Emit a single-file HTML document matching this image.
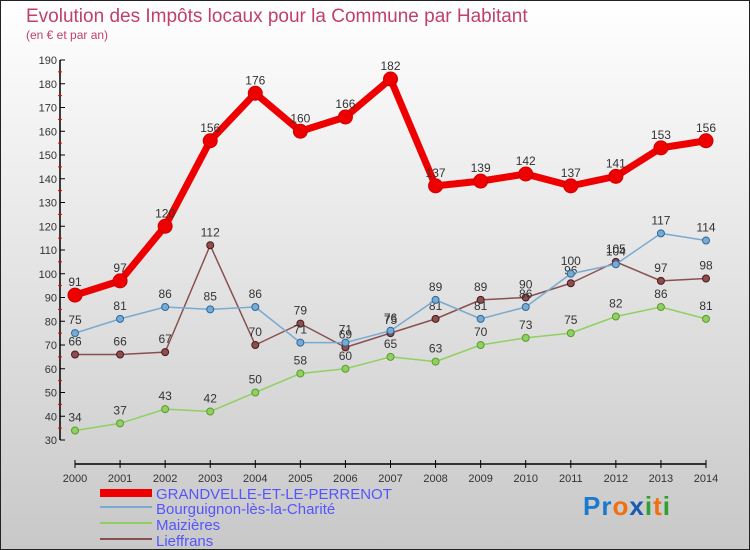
<!DOCTYPE html>
<html><head><meta charset="utf-8"><style>
body{margin:0;width:750px;height:550px;overflow:hidden;font-family:"Liberation Sans",sans-serif}
svg{display:block}
</style></head><body>
<svg id="chart" width="750" height="550" xmlns="http://www.w3.org/2000/svg">
<defs><linearGradient id="bg" x1="0" y1="0" x2="0" y2="1"><stop offset="0" stop-color="#ffffff"/><stop offset="1" stop-color="#c8c8c8"/></linearGradient></defs>
<rect x="0.5" y="0.5" width="749" height="549" fill="url(#bg)" stroke="#222"/>
<text x="26" y="22" font-size="19" fill="#c0406a">Evolution des Impôts locaux pour la Commune par Habitant</text>
<text x="26" y="39" font-size="12" fill="#c0406a">(en € et par an)</text>
<g id="axes"></g>
<g id="series"></g>
<g font-size="15" fill="#5555ff">
<rect x="100" y="489" width="52" height="8" fill="#e00"/>
<text x="156" y="499">GRANDVELLE-ET-LE-PERRENOT</text>
<rect x="100" y="506" width="52" height="2" fill="#7aaad0"/>
<text x="156" y="514">Bourguignon-lès-la-Charité</text>
<rect x="100" y="522" width="52" height="2" fill="#90d060"/>
<text x="156" y="530">Maizières</text>
<rect x="100" y="538" width="52" height="2" fill="#8a5050"/>
<text x="156" y="546">Lieffrans</text>
</g>
<text x="583" y="515" font-size="26" font-weight="bold" letter-spacing="1"><tspan fill="#1a7ad0">Pr</tspan><tspan fill="#f07010">o</tspan><tspan fill="#1a5ab0">x</tspan><tspan fill="#30a030">i</tspan><tspan fill="#f07010">t</tspan><tspan fill="#30a030">i</tspan></text>
</svg>
<script>
const years=[2000,2001,2002,2003,2004,2005,2006,2007,2008,2009,2010,2011,2012,2013,2014];
const grandvelle=[91,97,120,156,176,160,166,182,137,139,142,137,141,153,156];
const bourguignon=[75,81,86,85,86,71,71,76,89,81,86,100,104,117,114];
const maizieres=[34,37,43,42,50,58,60,65,63,70,73,75,82,86,81];
const lieffrans=[66,66,67,112,70,79,69,75,81,89,90,96,105,97,98];
const yTicks=[30,40,50,60,70,80,90,100,110,120,130,140,150,160,170,180,190];
const NS="http://www.w3.org/2000/svg";
function x(i){return 75+i*(706-75)/(years.length-1);}
function y(v){return 440-(v-30)*380/160;}
function mk(t,a,p){const e=document.createElementNS(NS,t);for(const k in a)e.setAttribute(k,a[k]);p.appendChild(e);return e;}
const ax=document.getElementById('axes');
const yl=mk('line',{x1:60,y1:y(190),x2:60,y2:y(30),stroke:'#000','stroke-width':1.5},ax);


yTicks.forEach((v,k)=>{
 mk('line',{x1:60,y1:y(v),x2:65,y2:y(v),stroke:'#000'},ax);
 if(k<yTicks.length-1) mk('line',{x1:58,y1:y(v+5),x2:62,y2:y(v+5),stroke:'#e00'},ax);
 const t=mk('text',{x:57,y:y(v)+4,'text-anchor':'end','font-size':11,fill:'#333'},ax);t.textContent=v;
 
 
});
const xl=mk('line',{x1:x(0),y1:464,x2:x(14),y2:464,stroke:'#000','stroke-width':1.5},ax);


years.forEach((yr,i)=>{
 mk('line',{x1:x(i),y1:460,x2:x(i),y2:468,stroke:'#000'},ax);
 const t=mk('text',{x:x(i),y:482,'text-anchor':'middle','font-size':11,fill:'#333'},ax);t.textContent=yr;
 
 
});
const sg=document.getElementById('series');
function series(name,data,color,w,r,dark){
 const g=mk('g',{},sg);
 
 
 const pl=mk('polyline',{points:data.map((v,i)=>x(i)+','+y(v)).join(' '),fill:'none',stroke:color,'stroke-width':w,'stroke-linejoin':'round'},g);
 
 
 data.forEach((v,i)=>{
  const c=mk('circle',{cx:x(i),cy:y(v),r:r,fill:color,stroke:dark,'stroke-width':1},g);
  
  
  const t=mk('text',{x:x(i),y:y(v)-9,'text-anchor':'middle','font-size':12,fill:'#333'},g);t.textContent=v;
  
  
 });
}
series('maizieres-series',maizieres,'#90d060',1.5,3.5,'#5a9a30');
series('lieffrans-series',lieffrans,'#8a5050',1.5,3.5,'#501818');
series('bourguignon-series',bourguignon,'#7aaad0',1.5,3.5,'#2a6aa0');
series('grandvelle-series',grandvelle,'#ee0000',7,7,'#cc0000');
</script>
</body></html>
